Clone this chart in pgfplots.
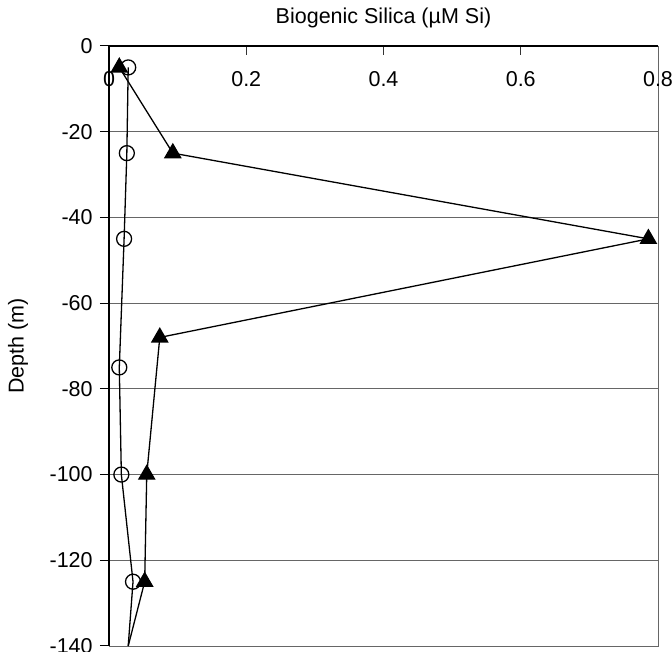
\documentclass[border=0pt]{standalone}
\usepackage{pgfplots}
\pgfplotsset{compat=1.18}
\usepackage{fontspec}
\setmainfont{Liberation Sans}
\begin{document}
\fontsize{21.5}{26}\selectfont
\begin{tikzpicture}
\useasboundingbox (-109pt,-6pt) rectangle (563pt,646pt);
\begin{axis}[
  at={(0pt,0pt)}, anchor=south west,
  scale only axis, width=549pt, height=600pt,
  xmin=0, xmax=0.8, ymin=-140, ymax=0,
  xtick={0,0.2,0.4,0.6,0.8},
  xticklabels={0,0.2,0.4,0.6,0.8},
  ytick={0,-20,-40,-60,-80,-100,-120,-140},
  yticklabels={0,-20,-40,-60,-80,-100,-120,-140},
  xtick pos=upper, xticklabel pos=upper,
  ytick pos=left,
  tick align=outside,
  major tick length=9pt,
  xtick style={yshift=-9pt, black!80, line width=1pt},
  ytick style={black, line width=1pt},
  ymajorgrids,
  grid style={gray!80!black, line width=0.9pt},
  axis line style={gray!80!black, line width=0.9pt},
  xticklabel style={anchor=center, yshift=-42pt},
  yticklabel style={anchor=east},
  ticklabel style={font=\fontsize{21.5}{26}\selectfont},
  label style={font=\fontsize{21.5}{26}\selectfont},
  xlabel={Biogenic Silica (\textmu M Si)},
  ylabel={Depth (m)},
  xlabel style={at={(axis description cs:0.5,1)}, anchor=center, yshift=28pt},
  ylabel style={at={(axis description cs:0,0.5)}, anchor=center, yshift=91pt},
  clip=false,
]
\addplot[black, line width=1.3pt, mark=o, mark size=7.5pt, mark indices={1,2,3,4,5,6}, mark options={line width=1.3pt, fill=white}]
  coordinates {(0.028,-5) (0.026,-25) (0.022,-45) (0.015,-75) (0.018,-100) (0.035,-125) (0.028,-140)};
\addplot[black, line width=1.3pt, mark=triangle*, mark size=9pt, mark indices={1,2,3,4,5,6}]
  coordinates {(0.015,-5) (0.093,-25) (0.786,-45) (0.074,-68) (0.055,-100) (0.052,-125) (0.028,-140)};
\draw[black, line width=2pt] (rel axis cs:0,0) -- (rel axis cs:0,1) -- (rel axis cs:1,1);
\end{axis}
\end{tikzpicture}
\end{document}
